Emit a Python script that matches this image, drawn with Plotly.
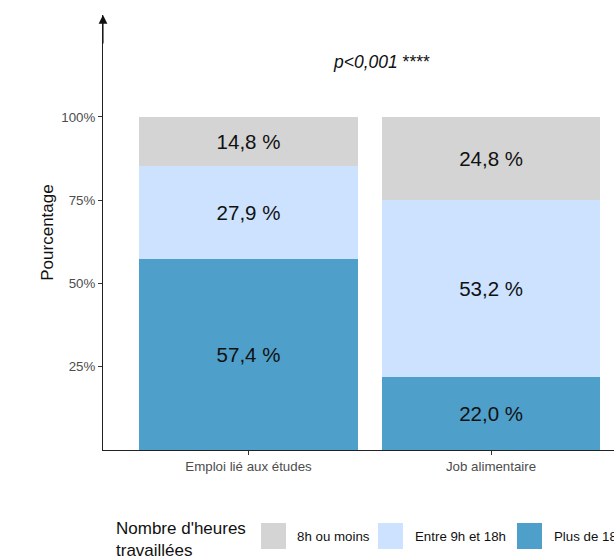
import plotly.graph_objects as go

categories = ["Emploi lié aux études", "Job alimentaire"]
series_names = ["Plus de 18h", "Entre 9h et 18h", "8h ou moins"]
plus_18h = [57.4, 22.0]
entre_9_18 = [27.9, 53.2]
moins_8h = [14.8, 24.8]
series_values = [plus_18h, entre_9_18, moins_8h]
colors = ["#4F9FCB", "#CCE2FF", "#D4D4D4"]
y_tickvals = [25, 50, 75, 100]
y_ticktext = ["25%", "50%", "75%", "100%"]
legend_order = ["8h ou moins", "Entre 9h et 18h", "Plus de 18h"]

FONT = "Arial, Liberation Sans, sans-serif"


def fmt(v):
    return f"{v:.1f}".replace(".", ",") + " %"


fig = go.Figure()
for name, vals, col in zip(series_names, series_values, colors):
    fig.add_trace(go.Bar(
        x=categories, y=vals, name=name, width=0.9,
        marker=dict(color=col, line=dict(width=0)),
        text=[fmt(v) for v in vals], textposition="inside",
        insidetextanchor="middle", textangle=0,
        textfont=dict(size=20.5, color="#111111", family=FONT),
        constraintext="none", showlegend=False,
        hoverinfo="skip",
    ))

W, H = 614, 559
ml, mr, mt, mb = 103, 0, 15, 109
pw, ph = W - ml - mr, H - mt - mb


def px_x(p):
    return (p - ml) / pw


def px_y(p):
    return (H - mb - p) / ph


fig.update_layout(
    width=W, height=H, barmode="stack",
    margin=dict(l=ml, r=mr, t=mt, b=mb),
    plot_bgcolor="white", paper_bgcolor="white",
    font=dict(family=FONT, color="#111111"),
    showlegend=False,
    xaxis=dict(range=[-0.6, 1.507], showline=True, linecolor="#222222", linewidth=1.1,
               ticks="outside", ticklen=4, tickcolor="#333333", tickwidth=1,
               tickfont=dict(size=13.3, color="#4D4D4D"), showgrid=False, zeroline=False),
    yaxis=dict(range=[0, 130.6], showline=True, linecolor="#222222", linewidth=1.1,
               tickvals=y_tickvals, ticktext=y_ticktext,
               ticks="outside", ticklen=4, tickcolor="#333333", tickwidth=1,
               tickfont=dict(size=13.3, color="#4D4D4D"), showgrid=False, zeroline=False,
               title=dict(text="Pourcentage", font=dict(size=17, color="#111111"), standoff=3)),
)

# axis arrow
fig.add_annotation(x=0, y=1, xref="paper", yref="paper", ax=0, ay=30, text="",
                   showarrow=True, arrowhead=2, arrowsize=1.6, arrowwidth=1.1,
                   arrowcolor="#111111", standoff=0)

# p-value
fig.add_annotation(x=px_x(381), y=116.5, xref="paper", yref="y",
                   text="<i>p&lt;0,001</i> ****",
                   showarrow=False, font=dict(size=17.5, color="#111111"),
                   xanchor="center", yanchor="middle")

# legend (manual)
fig.add_annotation(x=px_x(114), y=px_y(539), xref="paper", yref="paper",
                   text="Nombre d'heures<br>travaillées", showarrow=False, align="left",
                   xanchor="left", yanchor="middle", font=dict(size=17, color="#111111"))
sq_left = [261, 378, 517]
lab_left = [295, 413, 552]
for name, sx, lx in zip(legend_order, sq_left, lab_left):
    col = colors[series_names.index(name)]
    fig.add_shape(type="rect", xref="paper", yref="paper",
                  x0=px_x(sx), x1=px_x(sx + 25), y0=px_y(549), y1=px_y(523),
                  fillcolor=col, line=dict(width=0))
    fig.add_annotation(x=px_x(lx), y=px_y(536), xref="paper", yref="paper",
                       text=name, showarrow=False, xanchor="left", yanchor="middle",
                       font=dict(size=13.3, color="#111111"))

fig.write_html("out.html", config={"displayModeBar": False},
               post_script="document.body.style.margin='0';document.body.style.overflow='hidden';")
